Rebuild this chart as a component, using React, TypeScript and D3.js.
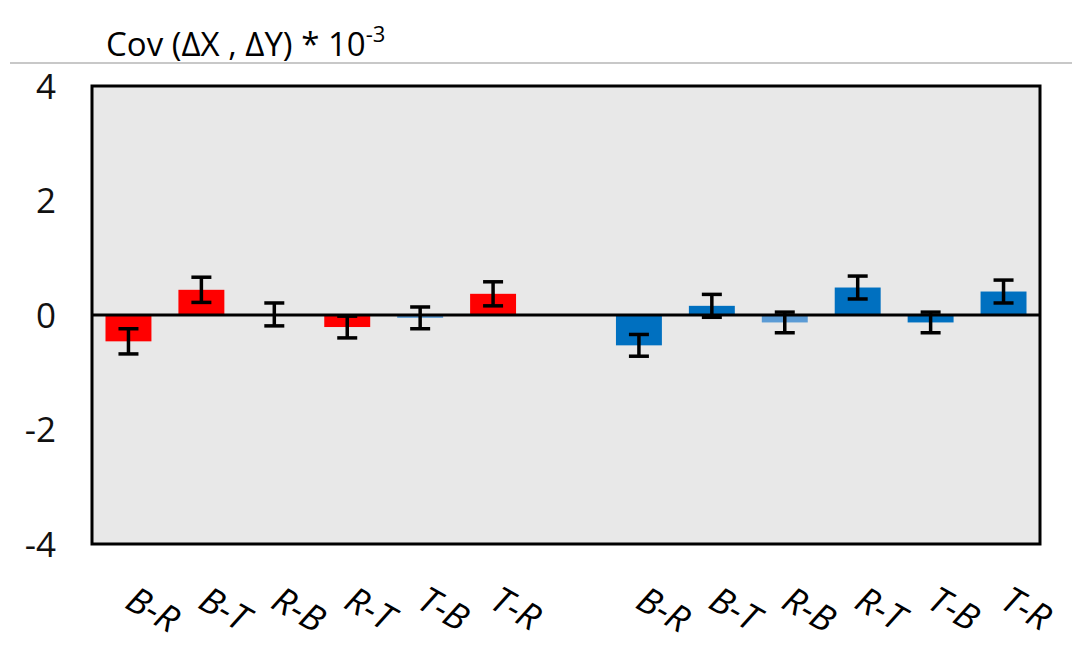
import React from 'react'
import * as d3 from 'd3'

// pair labels, same order in both groups
const LABELS = ['B-R', 'B-T', 'R-B', 'R-T', 'T-B', 'T-R']
const RED_VALUES = [-0.46, 0.44, 0.01, -0.21, -0.05, 0.37]
const RED_ERRORS = [0.22, 0.22, 0.2, 0.19, 0.19, 0.21]
const RED_COLORS = ['#FF0000', '#FF0000', '#FF0000', '#FF0000', '#5B9BD5', '#FF0000']
const BLUE_VALUES = [-0.53, 0.16, -0.13, 0.48, -0.13, 0.41]
const BLUE_ERRORS = [0.19, 0.2, 0.18, 0.2, 0.18, 0.2]
const BLUE_COLORS = ['#0070C0', '#0070C0', '#5B9BD5', '#0070C0', '#0070C0', '#0070C0']
const Y_TICKS = [-4, -2, 0, 2, 4]

const W = 1072
const H = 653
const plot = { left: 92, right: 1040, top: 86, bottom: 544 }

type Bar = { key: string; label: string; value: number; err: number; color: string }

const bars: Bar[] = [
  ...LABELS.map((l, i) => ({ key: 'r' + l, label: l, value: RED_VALUES[i], err: RED_ERRORS[i], color: RED_COLORS[i] })),
  ...LABELS.map((l, i) => ({ key: 'b' + l, label: l, value: BLUE_VALUES[i], err: BLUE_ERRORS[i], color: BLUE_COLORS[i] })),
]
const slots = [...bars.slice(0, 6).map((b) => b.key), 'gap', ...bars.slice(6).map((b) => b.key)]

export default function App() {
  const x = d3.scaleBand<string>().domain(slots).range([plot.left, plot.right]).paddingInner(0.37).paddingOuter(0.185)
  const y = d3.scaleLinear().domain([-4, 4]).range([plot.bottom, plot.top])
  const bw = x.bandwidth()
  const cap = 10

  return (
    <svg width={W} height={H} style={{ position: 'absolute', left: 0, top: 0, fontFamily: 'Open Sans, sans-serif' }}>
      <rect width={W} height={H} fill="#fff" />
      {/* title */}
      <text x={106} y={56} fontSize={33} fill="#000">
        Cov (ΔΧ , ΔΥ) * 10<tspan dy={-14} fontSize={22}>-3</tspan>
      </text>
      <line x1={10} x2={W} y1={63} y2={63} stroke="#C8C8C8" strokeWidth={2} />

      {/* plot area */}
      <rect x={plot.left} y={plot.top} width={plot.right - plot.left} height={plot.bottom - plot.top} fill="#E8E8E8" />

      {bars.map((b) => {
        const y0 = y(0)
        const y1 = y(b.value)
        return (
          <rect key={b.key} x={x(b.key)} y={Math.min(y0, y1)} width={bw} height={Math.abs(y1 - y0)} fill={b.color} />
        )
      })}

      <line x1={plot.left} x2={plot.right} y1={y(0)} y2={y(0)} stroke="#000" strokeWidth={3} />

      {bars.map((b) => {
        const cx = x(b.key)! + bw / 2
        const yt = y(b.value + b.err)
        const yb = y(b.value - b.err)
        return (
          <g key={'e' + b.key} stroke="#000" strokeWidth={3.5}>
            <line x1={cx} x2={cx} y1={yt} y2={yb} />
            <line x1={cx - cap} x2={cx + cap} y1={yt} y2={yt} />
            <line x1={cx - cap} x2={cx + cap} y1={yb} y2={yb} />
          </g>
        )
      })}

      <rect x={plot.left} y={plot.top} width={plot.right - plot.left} height={plot.bottom - plot.top} fill="none" stroke="#000" strokeWidth={3} />

      {/* y ticks */}
      {Y_TICKS.map((t) => (
        <text key={t} x={56} y={y(t)} dy="0.36em" textAnchor="end" fontSize={35} fill="#111">
          {t}
        </text>
      ))}

      {/* x labels */}
      {bars.map((b) => {
        const cx = x(b.key)! + bw / 2
        const lx = cx - 5
        const ly = 607
        return (
          <text key={'l' + b.key} x={lx} y={ly} transform={`rotate(30 ${lx} ${ly})`} fontSize={36} fontStyle="italic" fill="#000">
            {b.label}
          </text>
        )
      })}
    </svg>
  )
}
